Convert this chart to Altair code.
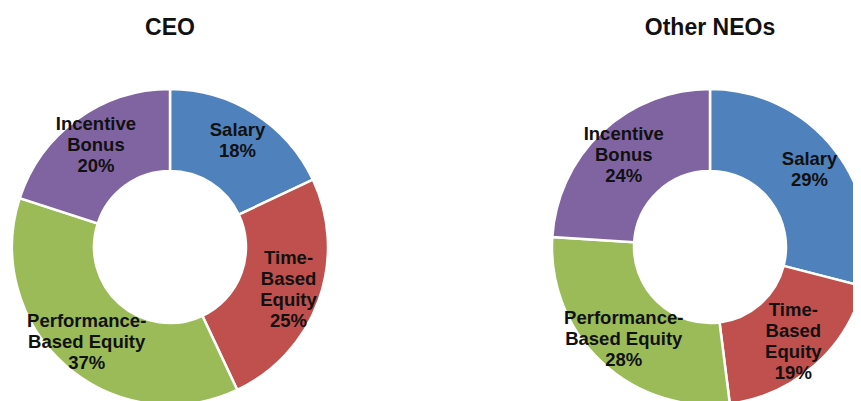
import altair as alt
import pandas as pd

groups = ["CEO", "Other NEOs"]
categories = ["Salary", "Time-Based Equity", "Performance-Based Equity", "Incentive Bonus"]
category_labels = ["Salary", "Time-\nBased\nEquity", "Performance-\nBased Equity", "Incentive\nBonus"]
ceo_values = [18, 25, 37, 20]
neo_values = [29, 19, 28, 24]
colors = ["#4F81BD", "#C0504D", "#9BBB59", "#8064A2"]

rows = []
for g, vals in zip(groups, [ceo_values, neo_values]):
    for i, (c, lab, v) in enumerate(zip(categories, category_labels, vals)):
        rows.append({"group": g, "category": c, "label": lab + "\n" + str(v) + "%",
                     "value": v, "order": i})
df = pd.DataFrame(rows)

centers = {"CEO": (162, 239), "Other NEOs": (702, 239)}
OUTER, INNER, LABEL_R = 158, 76, 126
LH = 21

theta_scale = alt.Scale(domain=[0, 1])

layers = []
for g in groups:
    cx, cy = centers[g]
    base = alt.Chart(df).transform_filter(alt.datum.group == g).transform_window(
        cum="sum(value)", sort=[alt.SortField("order")]
    ).transform_joinaggregate(
        total="sum(value)"
    ).transform_calculate(
        start="(datum.cum - datum.value) / datum.total",
        end="datum.cum / datum.total",
        mid="(datum.cum - datum.value / 2) / datum.total",
        shift=f"-(length(split(datum.label, '\\n')) - 1) * {LH / 2}",
    )
    arcs = base.mark_arc(outerRadius=OUTER, innerRadius=INNER, stroke="white",
                         strokeWidth=2.5).encode(
        theta=alt.Theta("start:Q", scale=theta_scale, stack=False),
        theta2="end:Q",
        color=alt.Color("category:N", scale=alt.Scale(domain=categories, range=colors),
                        legend=None),
        x=alt.value(cx), y=alt.value(cy),
    )
    texts = base.mark_text(radius=LABEL_R, font="Liberation Sans", fontWeight="bold",
                           fontSize=18.5, lineHeight=LH, lineBreak="\n", color="#111111",
                           align="center", baseline="middle").encode(
        theta=alt.Theta("mid:Q", stack=False, scale=theta_scale),
        text="label:N",
        x=alt.value(cx), y=alt.value(cy),
        yOffset=alt.YOffset("shift:Q", scale=None),
    )
    title = alt.Chart(pd.DataFrame({"t": [g]})).mark_text(
        font="Liberation Sans", fontWeight="bold", fontSize=23, color="#111111",
        align="center", baseline="alphabetic").encode(
        text="t:N", x=alt.value(cx), y=alt.value(27))
    layers += [arcs, texts, title]

chart = alt.layer(*layers).properties(
    width=845, height=393, padding=0,
    autosize=alt.AutoSizeParams(type="none"),
).configure_view(stroke=None)

chart.save("out.html", embed_options={"renderer": "svg", "actions": False})
